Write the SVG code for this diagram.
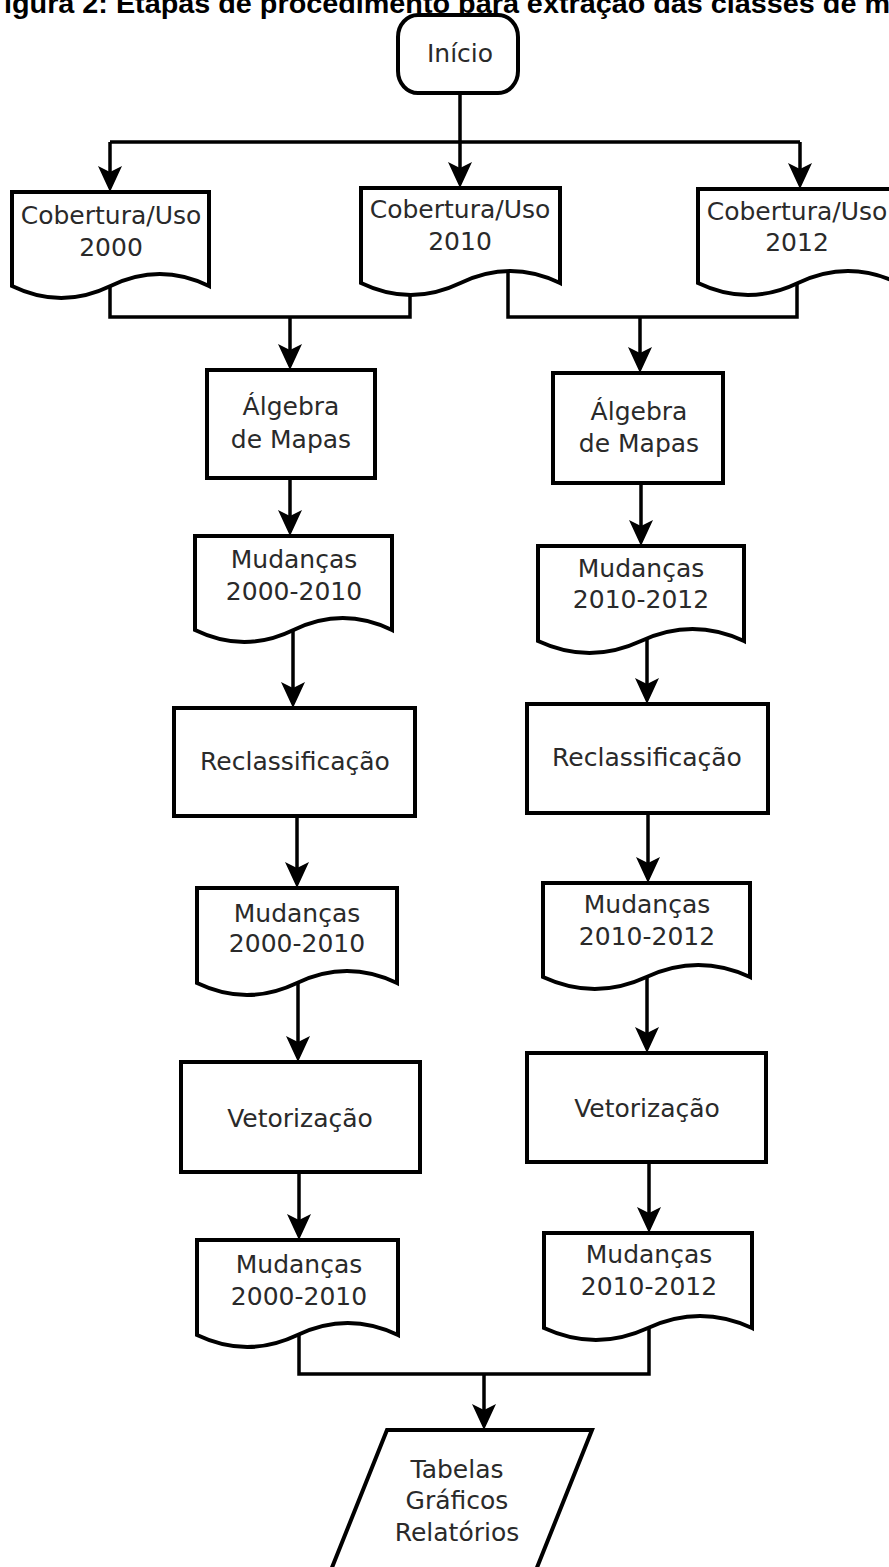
<svg xmlns="http://www.w3.org/2000/svg" width="889" height="1567" viewBox="0 0 889 1567">
<style>
.shape{fill:#fff;stroke:#000;stroke-width:4;stroke-linejoin:miter}
.conn{fill:none;stroke:#000;stroke-width:3.5}
.lbl{font-family:"DejaVu Sans",sans-serif;font-size:25px;fill:#2a2a2a;text-anchor:middle}
.title{font-family:"Liberation Sans",Arial,sans-serif;font-weight:bold;font-size:27px;fill:#000}
</style>
<defs>
<marker id="ah" markerUnits="userSpaceOnUse" viewBox="-1 -13 28 26" markerWidth="28" markerHeight="26" refX="22" refY="0" orient="auto">
<path d="M0,-12 L26,0 L0,12 L6,0 Z" fill="#000"/>
</marker>
</defs>
<rect width="889" height="1567" fill="#fff"/>
<text class="title" x="4" y="13" textLength="886" lengthAdjust="spacingAndGlyphs">igura 2: Etapas de procedimento para extração das classes de m</text>

<g id="connectors">
<path class="conn" d="M460,93 V142 M110,142 H800"/>
<path class="conn" d="M110,142 V188" marker-end="url(#ah)"/>
<path class="conn" d="M460,142 V184" marker-end="url(#ah)"/>
<path class="conn" d="M800,142 V185" marker-end="url(#ah)"/>
<path class="conn" d="M110,286 V317 H410 V293"/>
<path class="conn" d="M508,272 V317 H797 V283"/>
<path class="conn" d="M290,317 V366" marker-end="url(#ah)"/>
<path class="conn" d="M640,317 V369" marker-end="url(#ah)"/>
<path class="conn" d="M290,478 V532" marker-end="url(#ah)"/>
<path class="conn" d="M641,483 V542" marker-end="url(#ah)"/>
<path class="conn" d="M293,630 V704" marker-end="url(#ah)"/>
<path class="conn" d="M647,630 V700" marker-end="url(#ah)"/>
<path class="conn" d="M297,816 V884" marker-end="url(#ah)"/>
<path class="conn" d="M648,813 V879" marker-end="url(#ah)"/>
<path class="conn" d="M298,983 V1058" marker-end="url(#ah)"/>
<path class="conn" d="M647,975 V1049" marker-end="url(#ah)"/>
<path class="conn" d="M299,1172 V1236" marker-end="url(#ah)"/>
<path class="conn" d="M649,1162 V1229" marker-end="url(#ah)"/>
<path class="conn" d="M299,1335 V1374 H649 V1328"/>
<path class="conn" d="M484,1374 V1426" marker-end="url(#ah)"/>
</g>

<g id="inicio">
<rect class="shape" x="398" y="15" width="120" height="78" rx="20" ry="22"/>
<text class="lbl" x="460" y="62">Início</text>
</g>

<g id="cob2000">
<path class="shape" d="M12,192 H209 V286 Q159.75,262 110.5,286 T12,286 Z"/>
<text class="lbl" x="111" y="224">Cobertura/Uso</text>
<text class="lbl" x="111" y="256">2000</text>
</g>
<g id="cob2010">
<path class="shape" d="M361,188 H560 V283 Q510.25,259 460.5,283 T361,283 Z"/>
<text class="lbl" x="460" y="218">Cobertura/Uso</text>
<text class="lbl" x="460" y="250">2010</text>
</g>
<g id="cob2012">
<path class="shape" d="M698,189 H898 V283 Q848,259 798,283 T698,283 Z"/>
<text class="lbl" x="797" y="220">Cobertura/Uso</text>
<text class="lbl" x="797" y="251">2012</text>
</g>

<g id="alg1">
<rect class="shape" x="207" y="370" width="168" height="108"/>
<text class="lbl" x="291" y="415">Álgebra</text>
<text class="lbl" x="291" y="448">de Mapas</text>
</g>
<g id="alg2">
<rect class="shape" x="553" y="373" width="170" height="110"/>
<text class="lbl" x="639" y="420">Álgebra</text>
<text class="lbl" x="639" y="452">de Mapas</text>
</g>

<g id="mud1a">
<path class="shape" d="M195,536 H392 V630 Q342.75,606 293.5,630 T195,630 Z"/>
<text class="lbl" x="294" y="568">Mudanças</text>
<text class="lbl" x="294" y="600">2000-2010</text>
</g>
<g id="mud1b">
<path class="shape" d="M538,546 H744 V641 Q692.5,617 641,641 T538,641 Z"/>
<text class="lbl" x="641" y="577">Mudanças</text>
<text class="lbl" x="641" y="608">2010-2012</text>
</g>

<g id="recl1">
<rect class="shape" x="174" y="708" width="241" height="108"/>
<text class="lbl" x="295" y="770">Reclassificação</text>
</g>
<g id="recl2">
<rect class="shape" x="527" y="704" width="241" height="109"/>
<text class="lbl" x="647" y="766">Reclassificação</text>
</g>

<g id="mud2a">
<path class="shape" d="M197,888 H397 V983 Q347,959 297,983 T197,983 Z"/>
<text class="lbl" x="297" y="922">Mudanças</text>
<text class="lbl" x="297" y="952">2000-2010</text>
</g>
<g id="mud2b">
<path class="shape" d="M543,883 H750 V977 Q698.25,953 646.5,977 T543,977 Z"/>
<text class="lbl" x="647" y="913">Mudanças</text>
<text class="lbl" x="647" y="945">2010-2012</text>
</g>

<g id="vet1">
<rect class="shape" x="181" y="1062" width="239" height="110"/>
<text class="lbl" x="300" y="1127">Vetorização</text>
</g>
<g id="vet2">
<rect class="shape" x="527" y="1053" width="239" height="109"/>
<text class="lbl" x="647" y="1117">Vetorização</text>
</g>

<g id="mud3a">
<path class="shape" d="M197,1240 H398 V1335 Q347.75,1311 297.5,1335 T197,1335 Z"/>
<text class="lbl" x="299" y="1273">Mudanças</text>
<text class="lbl" x="299" y="1305">2000-2010</text>
</g>
<g id="mud3b">
<path class="shape" d="M544,1233 H752 V1328 Q700,1304 648,1328 T544,1328 Z"/>
<text class="lbl" x="649" y="1263">Mudanças</text>
<text class="lbl" x="649" y="1295">2010-2012</text>
</g>

<g id="saida">
<path class="shape" d="M387,1430 H592 L532,1580 H327 Z"/>
<text class="lbl" x="457" y="1478">Tabelas</text>
<text class="lbl" x="457" y="1509">Gráficos</text>
<text class="lbl" x="457" y="1541">Relatórios</text>
</g>
</svg>
